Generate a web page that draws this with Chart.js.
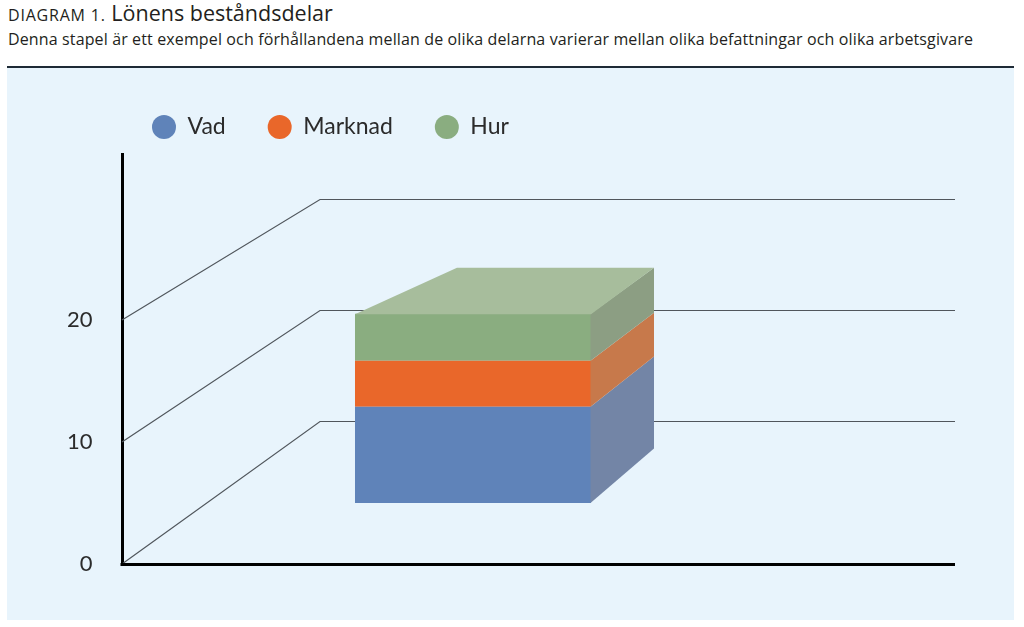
<!DOCTYPE html>
<html><head><meta charset="utf-8">
<script src="https://cdn.jsdelivr.net/npm/chart.js@4.4.0/dist/chart.umd.min.js"></script>
<style>
html,body{margin:0;padding:0;background:#fff;width:1024px;height:627px;overflow:hidden;font-family:'Open Sans',sans-serif;color:#231f20;}
#title{position:absolute;left:8px;top:0px;line-height:26px;white-space:nowrap;font-size:21.5px;}
#title .cap{font-size:16px;letter-spacing:0.8px;}
#sub{position:absolute;left:8px;top:29px;line-height:20px;white-space:nowrap;font-size:16px;letter-spacing:0.13px;}
#rule{position:absolute;left:7px;top:66px;width:1007px;height:2px;background:#1e2a35;}
#panel{position:absolute;left:7px;top:68px;width:1007px;height:552px;background:#e8f4fc;}
canvas{position:absolute;left:0;top:0;}
</style></head>
<body>
<div id="title"><span class="cap">DIAGRAM 1.</span> Lönens beståndsdelar</div>
<div id="sub">Denna stapel är ett exempel och förhållandena mellan de olika delarna varierar mellan olika befattningar och olika arbetsgivare</div>
<div id="rule"></div>
<div id="panel"></div>
<canvas id="c" width="1024" height="627"></canvas>
<script>
// ---- data ----
const categories = ['Lön'];
const seriesNames = ['Vad', 'Marknad', 'Hur'];
const vadValues = [8.2];
const marknadValues = [3.9];
const hurValues = [4.0];
const tickValues = [0, 10, 20];
const tickLabels = ['0', '10', '20'];

// ---- styling ----
const frontColors = ['#5f83b9', '#e9672a', '#8aad80'];
const sideColors = ['#7385a6', '#c7794b', '#8c9e83'];
const topColor = '#a7bd9c';
const FONT = "Lato, 'Open Sans', sans-serif";

const depthPlugin = {
  id: 'depth3d',
  beforeDatasetsDraw(chart) {
    const {ctx, chartArea, scales} = chart;
    const y = scales.y, yBack = scales.yBack;
    const backLeft = chartArea.left + 198, backRight = chartArea.right + 131;
    ctx.save();
    ctx.strokeStyle = '#50565c';
    ctx.lineWidth = 1.2;
    tickValues.forEach(v => {
      const fy = y.getPixelForValue(v);
      const by = Math.round(yBack.getPixelForValue(v)) + 0.5;
      ctx.beginPath();
      ctx.moveTo(chartArea.left, fy);
      ctx.lineTo(backLeft, by);
      ctx.lineTo(backRight, by);
      ctx.stroke();
    });
    ctx.restore();
  },
  afterDatasetsDraw(chart) {
    const {ctx} = chart;
    const n = chart.data.datasets.length;
    const els = [];
    for (let i = 0; i < n; i++) {
      const el = chart.getDatasetMeta(i).data[0];
      els.push(el.getProps(['x', 'y', 'base', 'width'], true));
    }
    const topPx = els[n - 1].y, botPx = els[0].base;
    const dyTop = -46, dyBot = -54.5, dxL = 102, dxR = 63;
    const dy = p => dyTop + (p - topPx) / (botPx - topPx) * (dyBot - dyTop);
    ctx.save();
    els.forEach((e, i) => {
      const R = e.x + e.width / 2;
      ctx.fillStyle = sideColors[i];
      ctx.beginPath();
      ctx.moveTo(R - 0.5, e.y);
      ctx.lineTo(R + dxR, e.y + dy(e.y));
      ctx.lineTo(R + dxR, e.base + dy(e.base));
      ctx.lineTo(R - 0.5, e.base);
      ctx.closePath();
      ctx.fill();
    });
    const t = els[n - 1];
    const L = t.x - t.width / 2, R = t.x + t.width / 2;
    ctx.fillStyle = topColor;
    ctx.beginPath();
    ctx.moveTo(L, t.y + 0.5);
    ctx.lineTo(L + dxL, t.y + dyTop);
    ctx.lineTo(R + dxR, t.y + dyTop);
    ctx.lineTo(R, t.y + 0.5);
    ctx.closePath();
    ctx.fill();
    ctx.restore();
  },
  afterDraw(chart) {
    const {ctx, chartArea} = chart;
    ctx.save();
    ctx.strokeStyle = '#000';
    ctx.lineWidth = 3;
    ctx.beginPath();
    const yb = Math.round(chartArea.bottom) + 0.5;
    ctx.moveTo(chartArea.left - 1.5, yb);
    ctx.lineTo(chartArea.right + 131, yb);
    ctx.stroke();
    ctx.restore();
  }
};

const seriesValues = [vadValues, marknadValues, hurValues];

new Chart(document.getElementById('c'), {
  type: 'bar',
  data: {
    labels: categories,
    datasets: seriesNames.map((name, i) => ({
      label: name,
      data: seriesValues[i],
      backgroundColor: frontColors[i],
      borderWidth: 0,
      yAxisID: 'yBar',
      pointStyle: 'circle',
      categoryPercentage: 1,
      barPercentage: 0.3362
    }))
  },
  options: {
    responsive: false,
    animation: false,
    devicePixelRatio: 1,
    layout: {padding: {left: 110, top: 73.5, right: 200, bottom: 63}},
    plugins: {
      legend: {
        position: 'top',
        align: 'start',
        labels: {
          usePointStyle: true,
          pointStyle: 'circle',
          pointStyleWidth: 24,
          boxHeight: 17,
          padding: 42,
          color: '#2b2b2b',
          font: {family: FONT, size: 23}
        }
      },
      subtitle: {
        display: true,
        text: '',
        weight: 500,
        font: {size: 1, lineHeight: 1},
        padding: {top: 0, bottom: 4.5}
      },
      tooltip: {enabled: false}
    },
    scales: {
      x: {display: false, stacked: true},
      y: {
        position: 'left',
        min: 0, max: 33.607,
        afterFit(s) { s.width = 12; },
        afterBuildTicks(s) { s.ticks = tickValues.map(v => ({value: v})); },
        ticks: {
          mirror: true,
          crossAlign: 'far',
          padding: -55,
          color: '#2b2b2b',
          font: {family: FONT, size: 22},
          callback: (v, i) => tickLabels[i]
        },
        grid: {display: false, drawTicks: false},
        border: {display: true, color: '#000', width: 3}
      },
      yBack: {display: false, position: 'left', min: -12.883, max: 24.054},
      yBar: {display: false, position: 'left', stacked: true, min: -5.191, max: 29.702}
    }
  },
  plugins: [depthPlugin]
});
</script>
</body></html>
